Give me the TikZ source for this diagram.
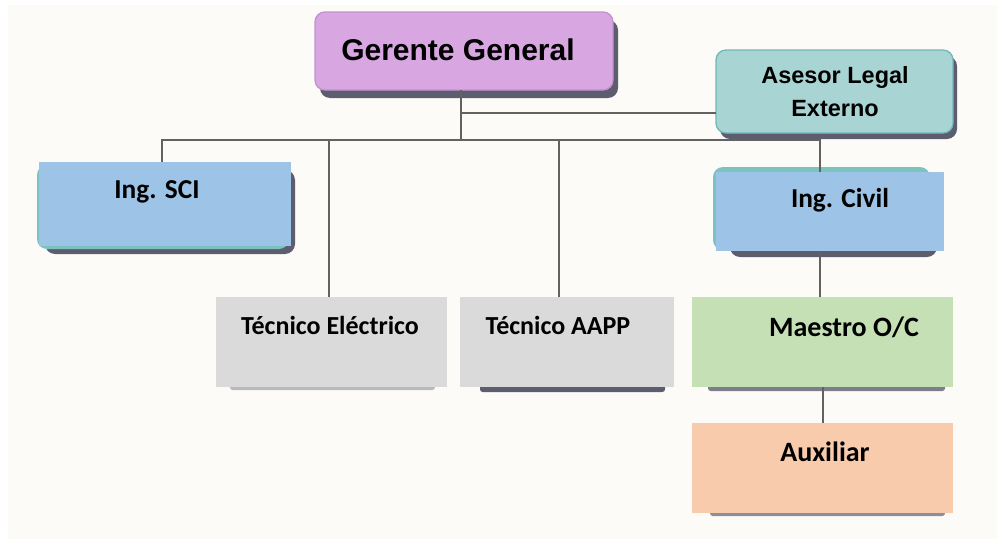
\documentclass[tikz,border=0pt]{standalone}
\usepackage{fontspec}
\setmainfont{Carlito}
\newfontfamily\hfont{Liberation Sans}
\usetikzlibrary{fit,calc}
\definecolor{bgc}{HTML}{FCFBF8}
\definecolor{ggfill}{HTML}{D8A7E2}
\definecolor{ggdraw}{HTML}{C590CF}
\definecolor{asfill}{HTML}{A9D4D4}
\definecolor{asdraw}{HTML}{72B8B8}
\definecolor{bluef}{HTML}{9DC3E6}
\definecolor{tealu}{HTML}{7CC2BE}
\definecolor{greyf}{HTML}{DADADB}
\definecolor{greenf}{HTML}{C5E0B4}
\definecolor{peachf}{HTML}{F8CBAD}
\definecolor{shad}{HTML}{5C5D6E}
\definecolor{lshad}{HTML}{B9B9C2}
\definecolor{linec}{HTML}{626262}
\begin{document}
\begin{tikzpicture}[x=0.75pt,y=-0.75pt,
  box/.style={inner sep=0pt, outer sep=0pt},
  rbox/.style={box, rounded corners=7.5pt},
  conn/.style={draw=linec, line width=1.1pt},
  ttl/.style={font=\hfont\bfseries\fontsize{22.5}{27}\selectfont},
  asl/.style={font=\hfont\bfseries\fontsize{17.6}{24.75}\selectfont, align=center},
  lbl/.style={font=\bfseries\fontsize{19.5}{23}\selectfont},
  lblb/.style={font=\bfseries\fontsize{20.5}{24}\selectfont},
  lblc/.style={font=\bfseries\fontsize{21}{25}\selectfont}]
\useasboundingbox (0,0) rectangle (997,539);
\fill[white] (0,0) rectangle (997,539);
\fill[bgc] (8,5) rectangle (997,539);

% Gerente General
\fill[shad, rounded corners=7.5pt] (320,20) rectangle (618,98);
\node[fit={(315,12) (613,90)}, rbox, fill=ggfill, draw=ggdraw, line width=1pt] (gg) {};
\node[ttl] (ggt) at (458,50) {Gerente General};

% Asesor Legal Externo
\fill[shad, rounded corners=7.5pt] (720,56) rectangle (957,139);
\node[fit={(716,50) (953,133)}, rbox, fill=asfill, draw=asdraw, line width=1pt] (ase) {};
\node[asl] (aset) at (835,92) {Asesor Legal\\Externo};

% Ing. SCI
\fill[shad, rounded corners=7.5pt] (45,170) rectangle (295,254);
\fill[tealu, rounded corners=7.5pt] (37,165) rectangle (289,249);
\node[fit={(39,162) (291,246)}, box, fill=bluef] (sci) {};
\node[lblb] (scit) at (157,192) {Ing. SCI};

% Ing. Civil
\fill[shad, rounded corners=7.5pt] (730,176) rectangle (937,257);
\fill[tealu, rounded corners=7.5pt] (713,167) rectangle (930,250);
\node[fit={(716,172) (944,251)}, box, fill=bluef] (civ) {};
\node[lblb] (civt) at (840,200) {Ing. Civil};

% Tecnico Electrico
\fill[lshad, rounded corners=2pt] (230,384) rectangle (435,390);
\node[fit={(216,297) (447,387)}, box, fill=greyf] (tae) {};
\node[lbl] (taet) at (330,325) {Técnico Eléctrico};

% Tecnico AAPP
\fill[shad, rounded corners=2pt] (480,384) rectangle (665,392);
\node[fit={(460,297) (674,387)}, box, fill=greyf] (aapp) {};
\node[lbl] (aappt) at (558,325) {Técnico AAPP};

% Maestro O/C
\fill[shad!80, rounded corners=2pt] (708,384) rectangle (945,391);
\node[fit={(692,297) (953,387)}, box, fill=greenf] (mae) {};
\node[lblc] (maet) at (844,327) {Maestro O/C};

% Auxiliar
\fill[shad!70, rounded corners=2pt] (710,510) rectangle (945,516);
\node[fit={(692,423) (953,513)}, box, fill=peachf] (aux) {};
\node[lblc] (auxt) at (825,452) {Auxiliar};

% connectors
\coordinate (j) at (461,140);
\coordinate (ja) at (461,113);
\coordinate (xs) at (162,0);
\coordinate (xe) at (329,0);
\coordinate (xa) at (559,0);
\coordinate (xc) at (820,0);
\coordinate (xm) at (823,0);
\draw[conn] (gg.south -| j) -- (j);
\draw[conn] (ja) -- (ja -| ase.west);
\draw[conn] (sci.north -| xs) |- (j) -| (civ.north -| xc);
\draw[conn] (j -| xe) -- (tae.north -| xe);
\draw[conn] (j -| xa) -- (aapp.north -| xa);
\draw[conn] (civ.south -| xc) -- (mae.north -| xc);
\draw[conn] (mae.south -| xm) -- (aux.north -| xm);
\end{tikzpicture}
\end{document}
